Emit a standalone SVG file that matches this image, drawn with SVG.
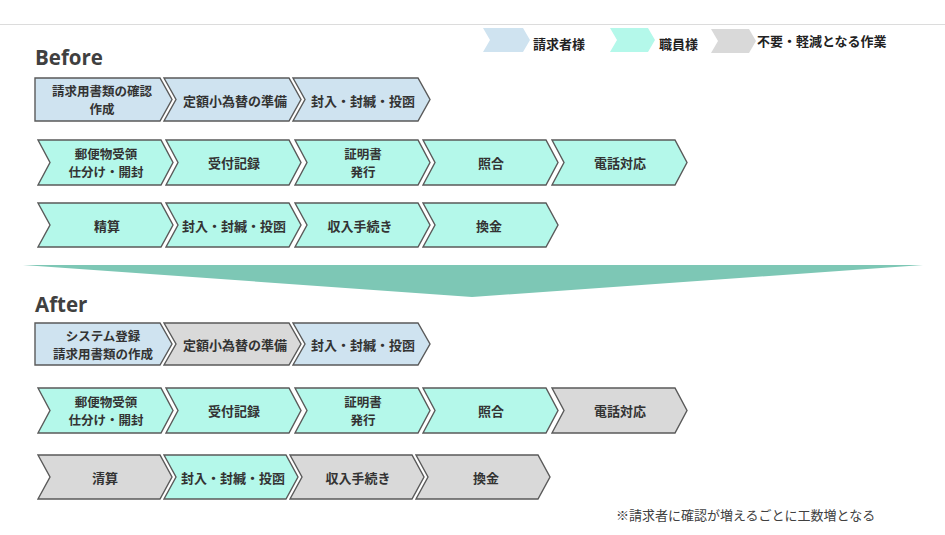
<svg xmlns="http://www.w3.org/2000/svg" width="945" height="535" viewBox="0 0 945 535">
<style>
.blue{fill:#cfe3f0}
.mint{fill:#b4f8ea}
.gray{fill:#d9d9d9}
.node polygon{stroke:#5a5a5a;stroke-width:1.4;stroke-linejoin:miter}
.lg polygon{stroke:none}
.t{font-family:"Noto Sans CJK JP","Noto Sans",sans-serif;font-weight:bold;font-size:13px;fill:#333;text-anchor:middle;dominant-baseline:central}
.t2{font-size:12.5px}
.lt{font-family:"Noto Sans CJK JP","Noto Sans",sans-serif;font-weight:bold;font-size:13px;fill:#222;dominant-baseline:central}
.h{font-family:"Open Sans","Noto Sans",sans-serif;font-weight:bold;font-size:20.5px;fill:#404040}
.note{font-family:"Noto Sans CJK JP","Noto Sans",sans-serif;font-size:13px;fill:#404040}
</style>
<rect width="945" height="535" fill="#ffffff"/>
<line x1="0" y1="24.5" x2="945" y2="24.5" stroke="#dcdcdc" stroke-width="1"/>

<g id="legend">
  <g id="legend-requester" class="lg">
    <polygon class="blue" points="483,28 523,28 530,40 523,52 483,52 490,40"/>
    <text class="lt" x="533" y="43">請求者様</text>
  </g>
  <g id="legend-staff" class="lg">
    <polygon class="mint" points="610,28 648,28 655,40 648,52 610,52 617,40"/>
    <text class="lt" x="659" y="43">職員様</text>
  </g>
  <g id="legend-unneeded" class="lg">
    <polygon class="gray" points="711,29 749,29 756,41 749,53 711,53 718,41"/>
    <text class="lt" x="757" y="40">不要・軽減となる作業</text>
  </g>
</g>

<text class="h" x="35" y="65">Before</text>

<g id="b1-1" class="node"><polygon class="blue" points="35,78 160,78 172,99.5 160,121 35,121"/>
  <text class="t t2" x="102" y="90.3">請求用書類の確認</text><text class="t t2" x="102" y="108.6">作成</text></g>
<g id="b1-2" class="node"><polygon class="blue" points="164,78 289,78 301,99.5 289,121 164,121 176,99.5"/>
  <text class="t" x="235" y="100">定額小為替の準備</text></g>
<g id="b1-3" class="node"><polygon class="blue" points="293,78 418,78 430,99.5 418,121 293,121 305,99.5"/>
  <text class="t" x="363" y="100">封入・封緘・投函</text></g>

<g id="b2-1" class="node"><polygon class="mint" points="38,140 161,140 173,162.5 161,185 38,185 50,162.5"/>
  <text class="t t2" x="106" y="153.3">郵便物受領</text><text class="t t2" x="106" y="171.6">仕分け・開封</text></g>
<g id="b2-2" class="node"><polygon class="mint" points="166,140 289,140 301,162.5 289,185 166,185 178,162.5"/>
  <text class="t" x="234" y="162">受付記録</text></g>
<g id="b2-3" class="node"><polygon class="mint" points="295,140 418,140 430,162.5 418,185 295,185 307,162.5"/>
  <text class="t t2" x="363" y="153.3">証明書</text><text class="t t2" x="363" y="171.6">発行</text></g>
<g id="b2-4" class="node"><polygon class="mint" points="423,140 546,140 558,162.5 546,185 423,185 435,162.5"/>
  <text class="t" x="491" y="162">照合</text></g>
<g id="b2-5" class="node"><polygon class="mint" points="552,140 675,140 687,162.5 675,185 552,185 564,162.5"/>
  <text class="t" x="620" y="162">電話対応</text></g>

<g id="b3-1" class="node"><polygon class="mint" points="38,203 161,203 173,225 161,247 38,247 50,225"/>
  <text class="t" x="107" y="225">精算</text></g>
<g id="b3-2" class="node"><polygon class="mint" points="166,203 289,203 301,225 289,247 166,247 178,225"/>
  <text class="t" x="234" y="225">封入・封緘・投函</text></g>
<g id="b3-3" class="node"><polygon class="mint" points="295,203 418,203 430,225 418,247 295,247 307,225"/>
  <text class="t" x="360" y="225">収入手続き</text></g>
<g id="b3-4" class="node"><polygon class="mint" points="423,203 546,203 558,225 546,247 423,247 435,225"/>
  <text class="t" x="489" y="225">換金</text></g>

<g id="transition-arrow"><polygon points="23,265 923,265 472,297" fill="#7dc7b5"/></g>

<text class="h" x="35" y="312">After</text>

<g id="a1-1" class="node"><polygon class="blue" points="35,323 160,323 172,344 160,365 35,365"/>
  <text class="t t2" x="103" y="335">システム登録</text><text class="t t2" x="103" y="353.3">請求用書類の作成</text></g>
<g id="a1-2" class="node"><polygon class="gray" points="164,323 289,323 301,344 289,365 164,365 176,344"/>
  <text class="t" x="235" y="344">定額小為替の準備</text></g>
<g id="a1-3" class="node"><polygon class="blue" points="293,323 418,323 430,344 418,365 293,365 305,344"/>
  <text class="t" x="363" y="344">封入・封緘・投函</text></g>

<g id="a2-1" class="node"><polygon class="mint" points="38,388 161,388 173,410.5 161,433 38,433 50,410.5"/>
  <text class="t t2" x="106" y="401.3">郵便物受領</text><text class="t t2" x="106" y="419.6">仕分け・開封</text></g>
<g id="a2-2" class="node"><polygon class="mint" points="166,388 289,388 301,410.5 289,433 166,433 178,410.5"/>
  <text class="t" x="234" y="410">受付記録</text></g>
<g id="a2-3" class="node"><polygon class="mint" points="295,388 418,388 430,410.5 418,433 295,433 307,410.5"/>
  <text class="t t2" x="363" y="401.3">証明書</text><text class="t t2" x="363" y="419.6">発行</text></g>
<g id="a2-4" class="node"><polygon class="mint" points="423,388 546,388 558,410.5 546,433 423,433 435,410.5"/>
  <text class="t" x="491" y="410">照合</text></g>
<g id="a2-5" class="node"><polygon class="gray" points="552,388 675,388 687,410.5 675,433 552,433 564,410.5"/>
  <text class="t" x="620" y="410">電話対応</text></g>

<g id="a3-1" class="node"><polygon class="gray" points="38,455 160,455 172,477 160,499 38,499 50,477"/>
  <text class="t" x="105" y="477">清算</text></g>
<g id="a3-2" class="node"><polygon class="mint" points="164,455 286,455 298,477 286,499 164,499 176,477"/>
  <text class="t" x="233" y="477">封入・封緘・投函</text></g>
<g id="a3-3" class="node"><polygon class="gray" points="290,455 412,455 424,477 412,499 290,499 302,477"/>
  <text class="t" x="358" y="477">収入手続き</text></g>
<g id="a3-4" class="node"><polygon class="gray" points="416,455 538,455 550,477 538,499 416,499 428,477"/>
  <text class="t" x="486" y="477">換金</text></g>

<g id="connectors"/>

<text class="note" x="616" y="520">※請求者に確認が増えるごとに工数増となる</text>
</svg>
